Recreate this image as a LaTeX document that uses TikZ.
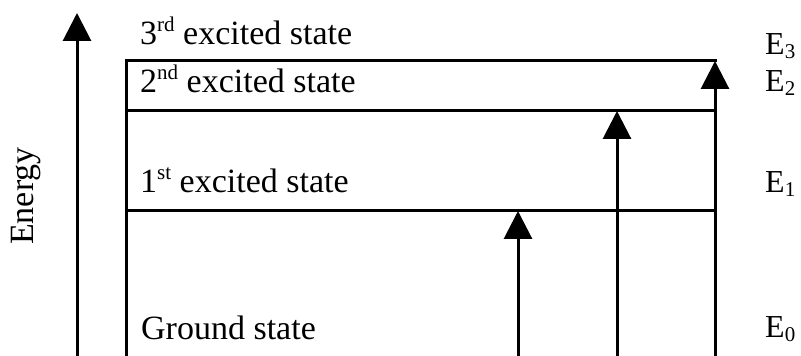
\documentclass[tikz,border=0pt]{standalone}
\usepackage{fontspec}
\setmainfont{Liberation Serif}
\usetikzlibrary{arrows.meta}
% raised ordinal suffix and lowered level index
\newcommand\ordsup[1]{\raisebox{13pt}{\fontsize{21}{21}\selectfont #1}}
\newcommand\lvlsub[1]{\raisebox{-4pt}{\fontsize{21}{21}\selectfont #1}}
\begin{document}
\begin{tikzpicture}[x=1pt,y=1pt,
  level/.style={line width=3pt},
  uparrow/.style={line width=3pt,-{Triangle[width=28pt,length=28pt]}},
  lbl/.style={anchor=base west,inner sep=0pt,font=\fontsize{34}{40}\selectfont},
  elbl/.style={anchor=base west,inner sep=0pt,font=\fontsize{32}{38}\selectfont}]
\useasboundingbox (0,0) rectangle (801,356);

% energy axis
\coordinate (axisB) at (77,0);
\coordinate (axisT) at (77,343);
\draw[uparrow] (axisB) -- (axisT);
\node[rotate=90,anchor=base,inner sep=0pt,font=\fontsize{34}{40}\selectfont] (energy) at (33,160) {Energy};

% energy levels
\coordinate (boxB) at (126,0);
\coordinate (l2L) at (126,295);
\coordinate (l2R) at (717,295);
\coordinate (l1L) at (126,245);
\coordinate (l1R) at (715,245);
\coordinate (l0L) at (126,145);
\coordinate (l0R) at (715,145);
\draw[level] (boxB) -- (l2L) -- (l2R);
\draw[level] (l1L) -- (l1R);
\draw[level] (l0L) -- (l0R);

% transitions from the ground state
\coordinate (t1B) at (518,0);
\coordinate (t1T) at (518,145);
\coordinate (t2B) at (617,0);
\coordinate (t2T) at (617,245);
\coordinate (t3B) at (715,0);
\coordinate (t3T) at (715,295);
\draw[uparrow] (t1B) -- (t1T);
\draw[uparrow] (t2B) -- (t2T);
\draw[uparrow] (t3B) -- (t3T);

% state names
\node[lbl] (s3) at (140,311) {3\ordsup{rd} excited state};
\node[lbl] (s2) at (140,263) {2\ordsup{nd} excited state};
\node[lbl] (s1) at (140,163) {1\ordsup{st} excited state};
\node[lbl] (s0) at (141,16) {Ground state};

% level energies
\node[elbl] (e3) at (765,301) {E\lvlsub{3}};
\node[elbl] (e2) at (765,264) {E\lvlsub{2}};
\node[elbl] (e1) at (765,163) {E\lvlsub{1}};
\node[elbl] (e0) at (765,18) {E\lvlsub{0}};
\end{tikzpicture}
\end{document}
